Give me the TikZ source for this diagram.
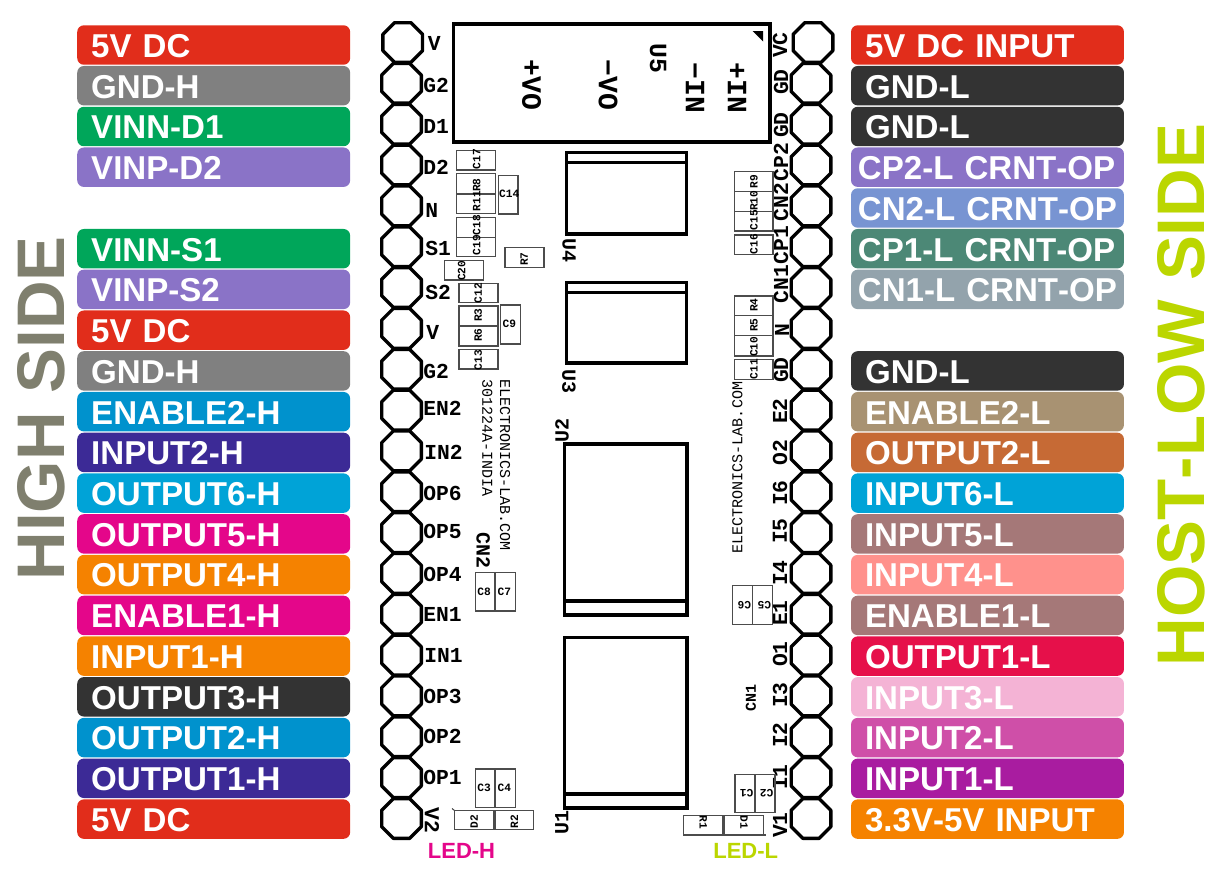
\documentclass[tikz,border=0pt]{standalone}
\usepackage{xcolor}
\usepackage{tikz}
\usepackage{fontspec}
\setmainfont{Liberation Sans}[Kerning=Off]
\newfontfamily\silk{Liberation Mono}
\usetikzlibrary{shapes.geometric}

\definecolor{barred}{RGB}{225,45,27}
\definecolor{bargrey}{RGB}{128,128,128}
\definecolor{bargreen}{RGB}{0,166,90}
\definecolor{barpurple}{RGB}{138,115,199}
\definecolor{barblue}{RGB}{0,146,205}
\definecolor{barindigo}{RGB}{60,42,150}
\definecolor{barcyan}{RGB}{0,163,215}
\definecolor{barmagenta}{RGB}{228,6,138}
\definecolor{barorange}{RGB}{245,130,0}
\definecolor{bardark}{RGB}{51,51,51}
\definecolor{barsky}{RGB}{120,148,210}
\definecolor{barteal}{RGB}{76,136,118}
\definecolor{barslate}{RGB}{147,163,172}
\definecolor{bartan}{RGB}{168,146,114}
\definecolor{barrust}{RGB}{198,106,53}
\definecolor{barmauve}{RGB}{165,120,120}
\definecolor{barsalmon}{RGB}{255,145,140}
\definecolor{barcrimson}{RGB}{230,16,74}
\definecolor{barpink}{RGB}{244,179,213}
\definecolor{barorchid}{RGB}{207,79,168}
\definecolor{barviolet}{RGB}{169,28,160}
\definecolor{sideolive}{RGB}{127,127,110}
\definecolor{sidelime}{RGB}{187,214,0}

\tikzset{
  pinbar/.style={fill=#1,text=white,rounded corners=5pt,font=\bfseries\fontsize{24.8pt}{24.8pt}\selectfont,
    minimum height=29.6pt,inner ysep=0pt,inner xsep=10.5pt,text width=183.7pt,align=left,text height=18.5pt,text depth=0pt},
  pinbarwide/.style={pinbar=#1,inner xsep=5.2pt,text width=194.3pt},
  pad/.style={draw,regular polygon,regular polygon sides=8,minimum size=32.2pt,inner sep=0pt,line width=2.5pt,line join=round},
  padtxt/.style={font=\silk\bfseries\fontsize{16pt}{16pt}\selectfont,inner sep=0pt},
  bodytxt/.style={font=\silk\bfseries\fontsize{21pt}{21pt}\selectfont,inner sep=0pt,rotate=-90},
  reftxt/.style={font=\silk\bfseries\fontsize{15pt}{15pt}\selectfont,inner sep=0pt},
  webtxt/.style={font=\silk\fontsize{11.3pt}{11.3pt}\selectfont,inner sep=0pt},
  parttxt/.style={font=\silk\bfseries\fontsize{8.4pt}{8.4pt}\selectfont,inner sep=0pt},
  outline/.style={line width=2.5pt},
  part/.style={line width=0.8pt,draw=black!70},
  sidetxt/.style={font=\bfseries\fontsize{50.5pt}{50.5pt}\selectfont,inner sep=0pt,rotate=90},
  ledtxt/.style={font=\bfseries\fontsize{16.5pt}{16.5pt}\selectfont,inner sep=0pt}
}

\begin{document}
\begin{tikzpicture}[x=0.75pt,y=0.75pt,yscale=-1,xscale=1]
\useasboundingbox (0,0) rectangle (1213,875);

%Side titles
\draw (41,408.5) node (hightitle) [sidetxt,text=sideolive] {HIGH SIDE};
\draw (1181,395) node (lowtitle) [sidetxt,text=sidelime] {HOST-LOW SIDE};

%Left pin bars
\draw (213.7,45) node (barL0) [pinbar=barred] {5V DC};
\draw (213.7,85.7) node (barL1) [pinbar=bargrey] {GND-H};
\draw (213.7,126.5) node (barL2) [pinbar=bargreen] {VINN-D1};
\draw (213.7,167.2) node (barL3) [pinbar=barpurple] {VINP-D2};
\draw (213.7,248.7) node (barL5) [pinbar=bargreen] {VINN-S1};
\draw (213.7,289.4) node (barL6) [pinbar=barpurple] {VINP-S2};
\draw (213.7,330.2) node (barL7) [pinbar=barred] {5V DC};
\draw (213.7,370.9) node (barL8) [pinbar=bargrey] {GND-H};
\draw (213.7,411.7) node (barL9) [pinbar=barblue] {ENABLE2-H};
\draw (213.7,452.4) node (barL10) [pinbar=barindigo] {INPUT2-H};
\draw (213.7,493.1) node (barL11) [pinbar=barcyan] {OUTPUT6-H};
\draw (213.7,533.9) node (barL12) [pinbar=barmagenta] {OUTPUT5-H};
\draw (213.7,574.6) node (barL13) [pinbar=barorange] {OUTPUT4-H};
\draw (213.7,615.4) node (barL14) [pinbar=barmagenta] {ENABLE1-H};
\draw (213.7,656.1) node (barL15) [pinbar=barorange] {INPUT1-H};
\draw (213.7,696.8) node (barL16) [pinbar=bardark] {OUTPUT3-H};
\draw (213.7,737.6) node (barL17) [pinbar=barblue] {OUTPUT2-H};
\draw (213.7,778.3) node (barL18) [pinbar=barindigo] {OUTPUT1-H};
\draw (213.7,819.1) node (barL19) [pinbar=barred] {5V DC};

%Right pin bars
\draw (987.5,45) node (barR0) [pinbar=barred] {5V DC INPUT};
\draw (987.5,85.7) node (barR1) [pinbar=bardark] {GND-L};
\draw (987.5,126.5) node (barR2) [pinbar=bardark] {GND-L};
\draw (987.5,167.2) node (barR3) [pinbarwide=barpurple] {CP2-L CRNT-OP};
\draw (987.5,208) node (barR4) [pinbarwide=barsky] {CN2-L CRNT-OP};
\draw (987.5,248.7) node (barR5) [pinbarwide=barteal] {CP1-L CRNT-OP};
\draw (987.5,289.4) node (barR6) [pinbarwide=barslate] {CN1-L CRNT-OP};
\draw (987.5,370.9) node (barR8) [pinbar=bardark] {GND-L};
\draw (987.5,411.7) node (barR9) [pinbar=bartan] {ENABLE2-L};
\draw (987.5,452.4) node (barR10) [pinbar=barrust] {OUTPUT2-L};
\draw (987.5,493.1) node (barR11) [pinbar=barcyan] {INPUT6-L};
\draw (987.5,533.9) node (barR12) [pinbar=barmauve] {INPUT5-L};
\draw (987.5,574.6) node (barR13) [pinbar=barsalmon] {INPUT4-L};
\draw (987.5,615.4) node (barR14) [pinbar=barmauve] {ENABLE1-L};
\draw (987.5,656.1) node (barR15) [pinbar=barcrimson] {OUTPUT1-L};
\draw (987.5,696.8) node (barR16) [pinbar=barpink] {INPUT3-L};
\draw (987.5,737.6) node (barR17) [pinbar=barorchid] {INPUT2-L};
\draw (987.5,778.3) node (barR18) [pinbar=barviolet] {INPUT1-L};
\draw (987.5,819.1) node (barR19) [pinbar=barorange] {3.3V-5V INPUT};

%Left pads
\draw (402.7,42.5) node (padL0) [pad] {};
\draw (401.5,83.3) node (padL1) [pad] {};
\draw (401.5,124.2) node (padL2) [pad] {};
\draw (401.5,165) node (padL3) [pad] {};
\draw (401.5,205.9) node (padL4) [pad] {};
\draw (401.5,246.7) node (padL5) [pad] {};
\draw (401.5,287.5) node (padL6) [pad] {};
\draw (401.5,328.4) node (padL7) [pad] {};
\draw (401.5,369.2) node (padL8) [pad] {};
\draw (401.5,410.1) node (padL9) [pad] {};
\draw (401.5,450.9) node (padL10) [pad] {};
\draw (401.5,491.7) node (padL11) [pad] {};
\draw (401.5,532.6) node (padL12) [pad] {};
\draw (401.5,573.4) node (padL13) [pad] {};
\draw (401.5,614.3) node (padL14) [pad] {};
\draw (401.5,655.1) node (padL15) [pad] {};
\draw (401.5,695.9) node (padL16) [pad] {};
\draw (401.5,736.8) node (padL17) [pad] {};
\draw (401.5,777.6) node (padL18) [pad] {};
\draw (401.5,818.5) node (padL19) [pad] {};

%Right pads
\draw (813,42.5) node (padR0) [pad] {};
\draw (811,83.3) node (padR1) [pad] {};
\draw (811,124.2) node (padR2) [pad] {};
\draw (811,165) node (padR3) [pad] {};
\draw (811,205.9) node (padR4) [pad] {};
\draw (811,246.7) node (padR5) [pad] {};
\draw (811,287.5) node (padR6) [pad] {};
\draw (811,328.4) node (padR7) [pad] {};
\draw (811,369.2) node (padR8) [pad] {};
\draw (811,410.1) node (padR9) [pad] {};
\draw (811,450.9) node (padR10) [pad] {};
\draw (811,491.7) node (padR11) [pad] {};
\draw (811,532.6) node (padR12) [pad] {};
\draw (811,573.4) node (padR13) [pad] {};
\draw (811,614.3) node (padR14) [pad] {};
\draw (811,655.1) node (padR15) [pad] {};
\draw (811,695.9) node (padR16) [pad] {};
\draw (811,736.8) node (padR17) [pad] {};
\draw (811,777.6) node (padR18) [pad] {};
\draw (811,818.5) node (padR19) [pad] {};

%Left pad labels
\draw (427.5,43) node (txtL0) [padtxt,anchor=west] {V};
\draw (423,85) node (txtL1) [padtxt,anchor=west] {G2};
\draw (423,126) node (txtL2) [padtxt,anchor=west] {D1};
\draw (423,167) node (txtL3) [padtxt,anchor=west] {D2};
\draw (425,210) node (txtL4) [padtxt,anchor=west] {N};
\draw (425,248) node (txtL5) [padtxt,anchor=west] {S1};
\draw (425,292) node (txtL6) [padtxt,anchor=west] {S2};
\draw (426,332) node (txtL7) [padtxt,anchor=west] {V};
\draw (423,371) node (txtL8) [padtxt,anchor=west] {G2};
\draw (423,408) node (txtL9) [padtxt,anchor=west] {EN2};
\draw (424,452) node (txtL10) [padtxt,anchor=west] {IN2};
\draw (423,493) node (txtL11) [padtxt,anchor=west] {OP6};
\draw (423,531) node (txtL12) [padtxt,anchor=west] {OP5};
\draw (423,574) node (txtL13) [padtxt,anchor=west] {OP4};
\draw (423,614) node (txtL14) [padtxt,anchor=west] {EN1};
\draw (424,655) node (txtL15) [padtxt,anchor=west] {IN1};
\draw (423,696) node (txtL16) [padtxt,anchor=west] {OP3};
\draw (423,736) node (txtL17) [padtxt,anchor=west] {OP2};
\draw (423,777) node (txtL18) [padtxt,anchor=west] {OP1};
\draw (432,820) node (txtL19) [padtxt,rotate=-90] {V2};

%Right pad labels
\draw (780,45) node (txtR0) [padtxt,rotate=90] {VC};
\draw (781,82) node (txtR1) [padtxt,rotate=90] {GD};
\draw (781,125) node (txtR2) [padtxt,rotate=90] {GD};
\draw (781,162) node (txtR3) [padtxt,rotate=90] {CP2};
\draw (781,202) node (txtR4) [padtxt,rotate=90] {CN2};
\draw (781,245) node (txtR5) [padtxt,rotate=90] {CP1};
\draw (781,284) node (txtR6) [padtxt,rotate=90] {CN1};
\draw (782,330) node (txtR7) [padtxt,rotate=90] {N};
\draw (781,370) node (txtR8) [padtxt,rotate=90] {GD};
\draw (780,411) node (txtR9) [padtxt,rotate=90] {E2};
\draw (780,452.5) node (txtR10) [padtxt,rotate=90] {O2};
\draw (780,493) node (txtR11) [padtxt,rotate=90] {I6};
\draw (780,531) node (txtR12) [padtxt,rotate=90] {I5};
\draw (780,573) node (txtR13) [padtxt,rotate=90] {I4};
\draw (780,613) node (txtR14) [padtxt,rotate=90] {E1};
\draw (780,654) node (txtR15) [padtxt,rotate=90] {O1};
\draw (780,695) node (txtR16) [padtxt,rotate=90] {I3};
\draw (780,735) node (txtR17) [padtxt,rotate=90] {I2};
\draw (780,777) node (txtR18) [padtxt,rotate=90] {I1};
\draw (780,825) node (txtR19) [padtxt,rotate=90] {V1};

%Converter U5
\draw [outline] (453.5,24) rectangle (770,142);
\fill (752.5,31) -- (763,31) -- (763,41.5) -- cycle;
\draw (531.5,85) node (plusvo) [bodytxt] {+VO};
\draw (608,85) node (minusvo) [bodytxt] {−VO};
\draw (658,58) node (uFive) [bodytxt,font=\silk\bfseries\fontsize{18.5pt}{18.5pt}\selectfont] {U5};
\draw (695,88) node (minusin) [bodytxt] {−IN};
\draw (737,88) node (plusin) [bodytxt] {+IN};

%Drivers U1 to U4
\draw [outline] (566.7,152.7) rectangle (686.7,234);
\draw [outline] (566.7,162.7) -- (686.7,162.7);
\draw (569,250) node (uFour) [reftxt,rotate=-90] {U4};
\draw [outline] (566.7,282.7) rectangle (686.7,363);
\draw [outline] (566.7,292.7) -- (686.7,292.7);
\draw (569,381) node (uThree) [reftxt,rotate=-90] {U3};
\draw [outline] (564.3,444) rectangle (687,615);
\draw [outline] (564.3,601) -- (687,601);
\draw (562,430) node (uTwo) [reftxt,rotate=90] {U2};
\draw [outline] (564.3,637.7) rectangle (687,808);
\draw [outline] (564.3,794) -- (687,794);
\draw (562,822) node (uOne) [reftxt,rotate=90] {U1};

%Parts, left column
\draw [part] (456.7,150.7) rectangle (495.7,170);
\draw (476.7,159) node (cSeventeen) [parttxt,rotate=90] {C17};
\draw [part] (456.7,173.3) rectangle (495.7,194);
\draw (476.7,185) node (rEight) [parttxt,rotate=90] {R8};
\draw [part] (456.7,194) rectangle (495.7,213.3);
\draw (476.7,201) node (rEleven) [parttxt,rotate=90] {R11};
\draw [part] (498.7,175.7) rectangle (518,214);
\draw (509.3,194) node (cFourteen) [parttxt] {C14};
\draw [part] (456.7,217.3) rectangle (495.7,237.3);
\draw (476.7,225) node (cEighteen) [parttxt,rotate=90] {C18};
\draw [part] (456.7,237.3) rectangle (495.7,256.7);
\draw (476.7,245) node (cNineteen) [parttxt,rotate=90] {C19};
\draw [part] (505,247.3) rectangle (544,267.3);
\draw (524.3,259) node (rSeven) [parttxt,rotate=90] {R7};
\draw [part] (444.3,260.7) rectangle (483.3,280);
\draw (461.7,270.7) node (cTwenty) [parttxt,rotate=90] {C20};
\draw [part] (459,283.3) rectangle (498,302.7);
\draw (478.3,293) node (cTwelve) [parttxt,rotate=90] {C12};
\draw [part] (459,306) rectangle (498,326);
\draw (478.3,315) node (rThree) [parttxt,rotate=90] {R3};
\draw [part] (459,326) rectangle (498,346);
\draw (478.3,335) node (rSix) [parttxt,rotate=90] {R6};
\draw [part] (500.7,305) rectangle (520.7,344);
\draw (509.3,324.3) node (cNine) [parttxt] {C9};
\draw [part] (459,349.3) rectangle (498,369);
\draw (478.3,360) node (cThirteen) [parttxt,rotate=90] {C13};
\draw (505,465) node (webL) [webtxt,rotate=-90] {ELECTRONICS-LAB.COM};
\draw (487.3,438) node (dateL) [webtxt,rotate=-90] {301224A-INDIA};
\draw (483.3,550.5) node (cnTwo) [reftxt,rotate=-90] {CN2};
\draw [part] (475.7,572.7) rectangle (495,611);
\draw (484,592) node (cEight) [parttxt] {C8};
\draw [part] (495,572.7) rectangle (515.7,611);
\draw (504.3,592) node (cSeven) [parttxt] {C7};
\draw [part] (475.7,769) rectangle (495,807.3);
\draw (484,787.7) node (cThree) [parttxt] {C3};
\draw [part] (495,769) rectangle (515.7,807.3);
\draw (504.3,787.7) node (cFour) [parttxt] {C4};
\fill [black!45] (493.3,810.3) rectangle (495,829.3);
\draw [part] (454.3,810.3) rectangle (493.3,829.3);
\draw [part] (454.3,810.3) -- (452,808.5);
\draw (474,821.7) node (dTwo) [parttxt,rotate=90] {D2};
\draw [part] (495,810.3) rectangle (533.7,829.3);
\draw (514.3,821.7) node (rTwo) [parttxt,rotate=90] {R2};
\draw (461.5,851) node (ledH) [ledtxt,text=barmagenta] {LED-H};

%Parts, right column
\draw [part] (734.3,171.7) rectangle (773,191.7);
\draw (754,181.7) node (rNine) [parttxt,rotate=90] {R9};
\draw [part] (734.3,191.7) rectangle (773,211.7);
\draw (754,200.7) node (rTen) [parttxt,rotate=90] {R10};
\draw [part] (734.3,211.7) rectangle (773,231);
\draw (754,220) node (cFifteen) [parttxt,rotate=90] {C15};
\draw [part] (734.3,235) rectangle (773,254.3);
\draw (754,244.3) node (cSixteen) [parttxt,rotate=90] {C16};
\draw [part] (734.3,296) rectangle (773,315.7);
\draw (754,305) node (rFour) [parttxt,rotate=90] {R4};
\draw [part] (734.3,315.7) rectangle (773,335.7);
\draw (754,325) node (rFive) [parttxt,rotate=90] {R5};
\draw [part] (734.3,335.7) rectangle (773,356);
\draw (754,346.7) node (cTen) [parttxt,rotate=90] {C10};
\draw [part] (734.3,359.3) rectangle (773,379.3);
\draw (754,369) node (cEleven) [parttxt,rotate=90] {C11};
\draw (737.3,467.7) node (webR) [webtxt,rotate=90] {ELECTRONICS-LAB.COM};
\draw [part] (732.7,585.7) rectangle (752.7,624.3);
\draw (744.3,605) node (cSix) [parttxt,rotate=180] {C6};
\draw [part] (752.7,585.7) rectangle (772.7,624.3);
\draw (764.3,605) node (cFive) [parttxt,rotate=180] {C5};
\draw (751,698.3) node (cnOne) [reftxt,rotate=90,font=\silk\bfseries\fontsize{11.3pt}{11.3pt}\selectfont] {CN1};
\draw [part] (735,774.3) rectangle (755,812.7);
\draw (746.7,793.3) node (cOne) [parttxt,rotate=180] {C1};
\draw [part] (755,774.3) rectangle (775,812.7);
\draw (766.7,793.3) node (cTwo) [parttxt,rotate=180] {C2};
\draw [part] (683.3,815.7) rectangle (722.7,835);
\draw (703.3,822.7) node (rOne) [parttxt,rotate=-90] {R1};
\draw [part] (724,815.7) rectangle (763.3,835);
\draw [part] (763.3,835) -- (765.5,835);
\draw (744,822.7) node (dOne) [parttxt,rotate=-90] {D1};
\draw (745.7,851) node (ledL) [ledtxt,text=sidelime] {LED-L};

\end{tikzpicture}
\end{document}
